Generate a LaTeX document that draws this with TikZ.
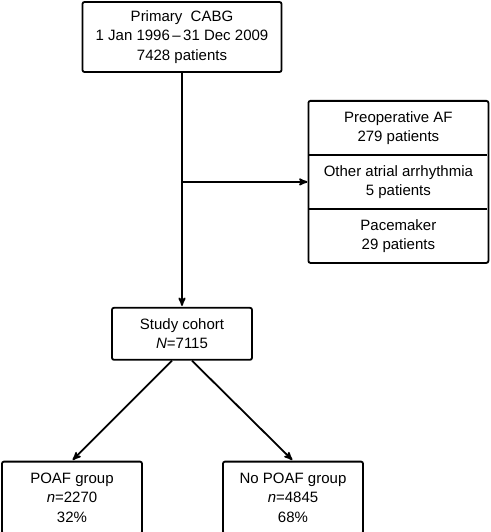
\documentclass[tikz,border=0pt]{standalone}
\usepackage{fontspec}
\setmainfont{Liberation Sans}
\usetikzlibrary{positioning,calc,arrows}

\begin{document}
\begin{tikzpicture}[>=stealth',shorten >=1pt,auto,line width=1.8pt,main node/.style=
    {rectangle,draw,rounded corners=2pt,align=center,font=\fontsize{15}{19.5}\selectfont},
    part node/.style={rectangle,align=center,outer sep=0pt,minimum width=180pt,
    minimum height=54pt,font=\fontsize{15}{19.5}\selectfont}]
    \useasboundingbox (0,0) rectangle (490pt,-532pt);
    % nodes
      \node[main node,minimum width=199pt,minimum height=70pt] (0) at (182pt,-37pt)
        {Primary\ \ CABG\\1 Jan 1996\,--\,31 Dec 2009\\7428 patients};
      \node[main node,minimum width=140pt,minimum height=52pt] (1) [below = 234pt of 0]
        {Study cohort\\\textit{N}=7115};
      \node[part node] (2) [below right = 28pt and 26pt of 0] {Preoperative AF\\279 patients};
      \node[part node] (3) [below = 0pt of 2] {Other atrial arrhythmia\\5 patients};
      \node[part node] (4) [below = 0pt of 3] {Pacemaker\\29 patients};
      \node[main node,minimum width=140pt,minimum height=72pt] (5) [below = 100pt of 1, xshift=-110pt]
        {POAF group\\\textit{n}=2270\\32\%};
      \node[main node,minimum width=140pt,minimum height=72pt] (6) [below = 100pt of 1, xshift=111pt]
        {No POAF group\\\textit{n}=4845\\68\%};
      % exclusion box
      \draw[rounded corners=2pt] (2.north west) rectangle (4.south east);
      \draw (3.north west) -- (3.north east);
      \draw (3.south west) -- (3.south east);
      %edges
      \draw[->] (0.south) -- (1.north);
      \draw[->] (0.south |- 3.west) -- (3.west);
      \draw[->] ([xshift=-10pt]1.south) -- (5.north);
      \draw[->] ([xshift=10pt]1.south) -- (6.north);
    \end{tikzpicture}
\end{document}
